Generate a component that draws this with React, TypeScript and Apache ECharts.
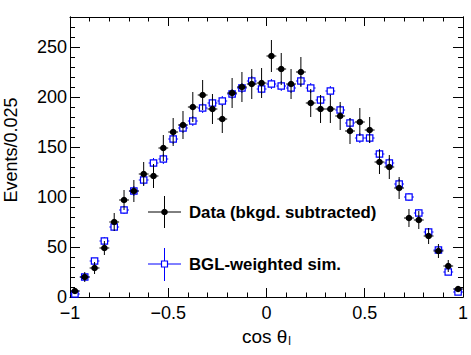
import React, { useEffect, useRef } from "react";
import * as echarts from "echarts";

// Bin centres of cos(theta_l)
const binCenters = [
  -0.975, -0.925, -0.875, -0.825, -0.775, -0.725, -0.675, -0.625, -0.575, -0.525,
  -0.475, -0.425, -0.375, -0.325, -0.275, -0.225, -0.175, -0.125, -0.075, -0.025,
  0.025, 0.075, 0.125, 0.175, 0.225, 0.275, 0.325, 0.375, 0.425, 0.475,
  0.525, 0.575, 0.625, 0.675, 0.725, 0.775, 0.825, 0.875, 0.925, 0.975,
];
const halfBin = 0.025;

// Data (bkgd. subtracted)
const dataValues = [
  6, 20, 29, 49, 75, 97, 106, 123, 121, 149,
  165, 172, 190, 202, 188, 178, 204, 210, 213, 214,
  241, 228, 213, 225, 194, 188, 188, 181, 166, 175,
  167, 135, 130, 109, 79, 77, 61, 46, 31, 8,
];
const dataErrors = [
  3, 5, 6, 7, 9, 10, 11, 12, 12, 13,
  14, 14, 15, 15, 15, 14, 15, 15, 15, 15,
  16, 16, 15, 15, 14, 14, 14, 14, 13, 14,
  13, 12, 12, 11, 9, 9, 8, 7, 6, 3,
];

// BGL-weighted simulation
const simValues = [
  3, 20, 36, 56, 70, 87, 106, 117, 134, 138,
  158, 169, 176, 189, 194, 196, 203, 209, 216, 208,
  213, 211, 209, 216, 209, 197, 206, 187, 174, 159,
  159, 143, 134, 113, 100, 84, 65, 47, 25, 5,
];
const simErrors = [
  2, 3, 3, 4, 4, 4, 5, 5, 5, 5,
  5, 5, 5, 5, 5, 5, 5, 5, 5, 5,
  5, 5, 5, 5, 5, 5, 5, 5, 5, 5,
  5, 5, 5, 5, 4, 4, 4, 3, 3, 2,
];

const xTicks = [-1, -0.5, 0, 0.5, 1];
const yMax = 280;

const FONT = "'Liberation Sans', Arial, Helvetica, sans-serif";
const BLUE = "#0000ff";

function fmtX(v: number): string {
  if (!xTicks.some((t) => Math.abs(t - v) < 1e-9)) return "";
  if (v < 0) return "\u2212" + String(Math.abs(v));
  return String(v);
}

export default function App() {
  const ref = useRef<HTMLDivElement>(null);

  useEffect(() => {
    document.body.style.margin = "0";
    if (!ref.current) return;
    const chart = echarts.init(ref.current, null, { renderer: "svg" });

    const dataPts = binCenters.map((x, i) => [x, dataValues[i], dataErrors[i]]);
    const simPts = binCenters.map((x, i) => [x, simValues[i], simErrors[i]]);

    const axisLine = { show: true, onZero: false, lineStyle: { color: "#000", width: 1 } };

    const yMinor = (pos: string, labels: boolean) => ({
      type: "value",
      position: pos,
      min: 0,
      max: yMax,
      interval: 10,
      axisLine,
      axisTick: { show: true, inside: true, length: 5, lineStyle: { color: "#000" } },
      axisLabel: labels
        ? {
            show: true,
            margin: 3,
            fontSize: 18,
            lineHeight: 13,
            fontFamily: FONT,
            color: "#000",
            formatter: (v: number) => (v % 50 === 0 && v <= 250 ? String(v) : ""),
          }
        : { show: false },
      splitLine: { show: false },
    });
    const yMajor = (pos: string) => ({
      type: "value",
      position: pos,
      min: 0,
      max: yMax,
      interval: 50,
      axisLine,
      axisTick: { show: true, inside: true, length: 10, lineStyle: { color: "#000" } },
      axisLabel: { show: false },
      splitLine: { show: false },
    });
    const xAx = (pos: string, labels: boolean) => ({
      type: "value",
      position: pos,
      min: -1,
      max: 1,
      interval: 0.5,
      axisLine,
      axisTick: { show: true, inside: true, length: 9, lineStyle: { color: "#000" } },
      minorTick: { show: true, splitNumber: 5, length: 4.5, lineStyle: { color: "#000" } },
      axisLabel: labels
        ? { show: true, margin: 8, fontSize: 18, lineHeight: 16, fontFamily: FONT, color: "#000", formatter: fmtX }
        : { show: false },
      splitLine: { show: false },
      minorSplitLine: { show: false },
      ...(labels
        ? {
            name: "{a|cos \u03b8}{b|l}",
            nameLocation: "middle",
            nameGap: 22,
            nameTextStyle: {
              color: "#000",
              fontFamily: FONT,
              fontSize: 19,
              rich: {
                a: { fontSize: 19, fontFamily: FONT, color: "#000" },
                b: { fontSize: 12, fontFamily: FONT, color: "#000", padding: [10, 0, 0, 1] },
              },
            },
          }
        : {}),
    });

    const renderData = (params: any, api: any) => {
      const x = api.value(0);
      const y = api.value(1);
      const e = api.value(2);
      const c = api.coord([x, y]);
      const l = api.coord([x - halfBin, y]);
      const r = api.coord([x + halfBin, y]);
      const t = api.coord([x, y + e]);
      const b = api.coord([x, y - e]);
      const st = { stroke: "#000", lineWidth: 1 };
      return {
        type: "group",
        children: [
          { type: "line", shape: { x1: l[0], y1: c[1], x2: r[0], y2: c[1] }, style: st },
          { type: "line", shape: { x1: c[0], y1: t[1], x2: c[0], y2: b[1] }, style: st },
          { type: "circle", shape: { cx: c[0], cy: c[1], r: 3.3 }, style: { fill: "#000" } },
        ],
      };
    };

    const sq = 3.2;
    const renderSim = (params: any, api: any) => {
      const x = api.value(0);
      const y = api.value(1);
      const e = api.value(2);
      const c = api.coord([x, y]);
      const l = api.coord([x - halfBin, y]);
      const r = api.coord([x + halfBin, y]);
      const t = api.coord([x, y + e]);
      const b = api.coord([x, y - e]);
      const st = { stroke: BLUE, lineWidth: 1 };
      const children: any[] = [
        { type: "line", shape: { x1: l[0], y1: c[1], x2: c[0] - sq, y2: c[1] }, style: st },
        { type: "line", shape: { x1: c[0] + sq, y1: c[1], x2: r[0], y2: c[1] }, style: st },
      ];
      if (t[1] < c[1] - sq) children.push({ type: "line", shape: { x1: c[0], y1: t[1], x2: c[0], y2: c[1] - sq }, style: st });
      if (b[1] > c[1] + sq) children.push({ type: "line", shape: { x1: c[0], y1: c[1] + sq, x2: c[0], y2: b[1] }, style: st });
      children.push({
        type: "rect",
        shape: { x: c[0] - sq, y: c[1] - sq, width: 2 * sq, height: 2 * sq },
        style: { fill: "none", stroke: BLUE, lineWidth: 1.2 },
      });
      return { type: "group", children };
    };

    const legendY1 = 212;
    const legendY2 = 264;
    const lx = 164.5;

    chart.setOption({
      animation: false,
      backgroundColor: "#fff",
      grid: { left: 70, top: 17, width: 397, height: 280, containLabel: false },
      xAxis: [xAx("bottom", true), xAx("top", false)],
      yAxis: [yMinor("left", true), yMajor("left"), yMinor("right", false), yMajor("right")],
      series: [
        {
          type: "custom",
          name: "BGL-weighted sim.",
          xAxisIndex: 0,
          yAxisIndex: 0,
          renderItem: renderSim,
          data: simPts,
          z: 2,
        },
        {
          type: "custom",
          name: "Data (bkgd. subtracted)",
          xAxisIndex: 0,
          yAxisIndex: 0,
          renderItem: renderData,
          data: dataPts,
          z: 3,
        },
      ],
      graphic: [
        {
          type: "text",
          x: 11,
          y: 150,
          rotation: Math.PI / 2,
          style: {
            text: "Events/0.025",
            fontSize: 18,
            fontFamily: FONT,
            fill: "#000",
            align: "center",
            verticalAlign: "middle",
          },
        },
        // legend: data
        { type: "line", shape: { x1: 148, y1: legendY1, x2: 181, y2: legendY1 }, style: { stroke: "#000", lineWidth: 1 } },
        { type: "line", shape: { x1: lx, y1: 196, x2: lx, y2: 228 }, style: { stroke: "#000", lineWidth: 1 } },
        { type: "circle", shape: { cx: lx, cy: legendY1, r: 3.3 }, style: { fill: "#000" } },
        {
          type: "text",
          x: 189,
          y: legendY1,
          style: {
            text: "Data (bkgd. subtracted)",
            fontSize: 16.8,
            fontWeight: "bold",
            fontFamily: FONT,
            fill: "#000",
            verticalAlign: "middle",
          },
        },
        // legend: sim
        { type: "line", shape: { x1: 148, y1: legendY2, x2: lx - 3, y2: legendY2 }, style: { stroke: BLUE, lineWidth: 1 } },
        { type: "line", shape: { x1: lx + 3, y1: legendY2, x2: 181, y2: legendY2 }, style: { stroke: BLUE, lineWidth: 1 } },
        { type: "line", shape: { x1: lx, y1: 248, x2: lx, y2: legendY2 - 3 }, style: { stroke: BLUE, lineWidth: 1 } },
        { type: "line", shape: { x1: lx, y1: legendY2 + 3, x2: lx, y2: 281 }, style: { stroke: BLUE, lineWidth: 1 } },
        {
          type: "rect",
          shape: { x: lx - 3, y: legendY2 - 3, width: 6, height: 6 },
          style: { fill: "none", stroke: BLUE, lineWidth: 1.2 },
        },
        {
          type: "text",
          x: 189,
          y: legendY2,
          style: {
            text: "BGL-weighted sim.",
            fontSize: 16.8,
            fontWeight: "bold",
            fontFamily: FONT,
            fill: "#000",
            verticalAlign: "middle",
          },
        },
      ],
    });

    return () => chart.dispose();
  }, []);

  return <div ref={ref} style={{ width: 471, height: 355 }} />;
}
